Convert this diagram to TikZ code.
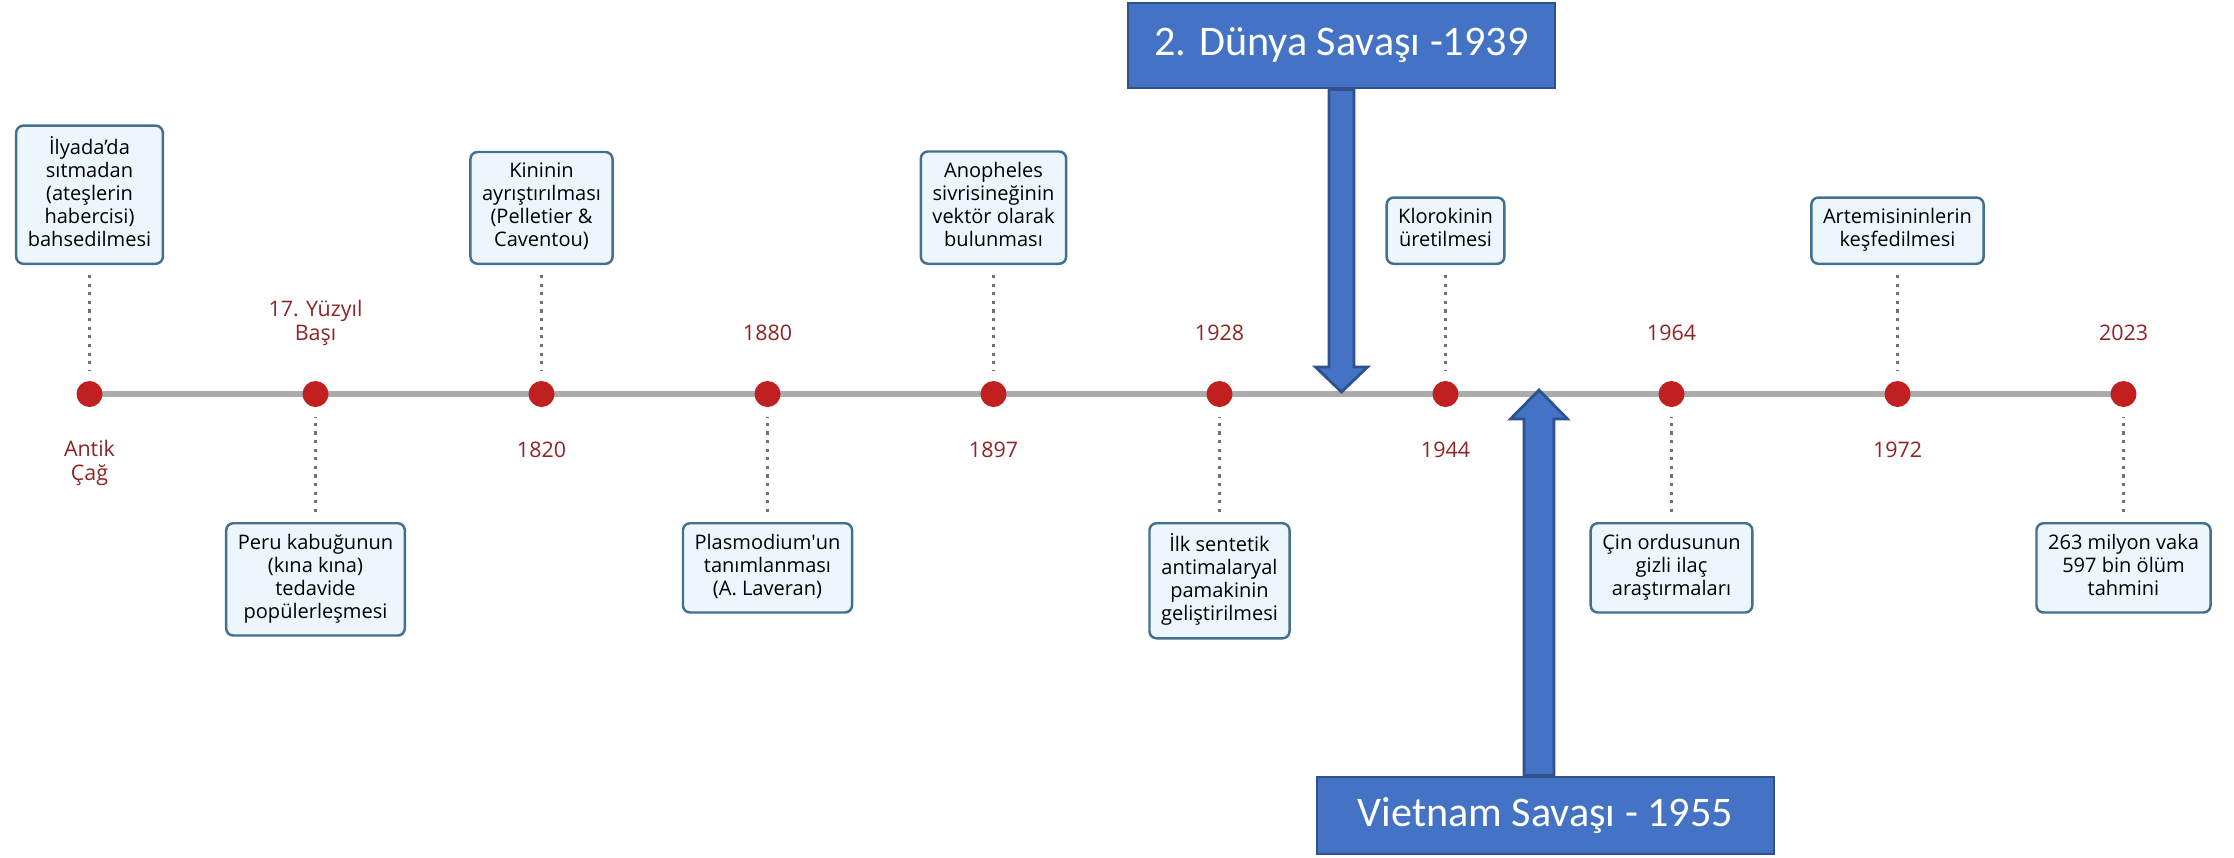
\documentclass[tikz,border=0pt]{standalone}
\usepackage{fontspec}
\setmainfont{Open Sans}
\newfontfamily\warfont{Carlito}
\usepackage{xcolor}
\usepackage{tikz}
\usetikzlibrary{positioning,backgrounds}
\definecolor{evborder}{HTML}{44708F}
\definecolor{evfill}{HTML}{EDF6FC}
\definecolor{dotred}{HTML}{C0201F}
\definecolor{yearred}{HTML}{8E2424}
\definecolor{axisgray}{HTML}{ABABAB}
\definecolor{stemgray}{HTML}{707070}
\definecolor{warblue}{HTML}{4472C4}
\definecolor{warborder}{HTML}{2F528F}
\tikzstyle{event} = [rectangle, rounded corners=2pt, draw=evborder, fill=evfill, line width=0.7pt, font=\fontsize{5.7}{6.55}\selectfont, align=center, inner xsep=3.3pt, inner ysep=3pt, execute at begin node=\strut, execute at end node=\strut]
\tikzstyle{year} = [font=\fontsize{6.1}{6.8}\selectfont, text=yearred, align=center, inner sep=0pt, execute at begin node=\strut, execute at end node=\strut]
\tikzstyle{dot} = [circle, fill=dotred, minimum size=0.26cm, inner sep=0pt, outer sep=0pt]
\tikzstyle{stem} = [draw=stemgray, line width=0.9pt, dash pattern=on 0.9pt off 1.55pt, shorten <=0.1cm, shorten >=0.1cm]
\tikzstyle{axis} = [draw=axisgray, line width=1.5pt]
\tikzstyle{war} = [rectangle, draw=warborder, fill=warblue, line width=0.8pt, text=white, font=\warfont\fontsize{12}{14}\selectfont, inner sep=0pt]
\tikzstyle{blockarrow} = [draw=warborder, fill=warblue, line width=0.8pt, line join=miter]

\begin{document}
\begin{tikzpicture}
	\useasboundingbox (0,0) rectangle (22.34,-8.57);

	\node (d0) [dot] at (0.895,-3.94) {};
	\node (d1) [dot, right=2cm of d0] {};
	\node (d2) [dot, right=2cm of d1] {};
	\node (d3) [dot, right=2cm of d2] {};
	\node (d4) [dot, right=2cm of d3] {};
	\node (d5) [dot, right=2cm of d4] {};
	\node (d6) [dot, right=2cm of d5] {};
	\node (d7) [dot, right=2cm of d6] {};
	\node (d8) [dot, right=2cm of d7] {};
	\node (d9) [dot, right=2cm of d8] {};
	\begin{scope}[on background layer]
		\draw [axis] (d0.center) -- (d9.center);
	\end{scope}

	\node (e0) [event, above=1.16cm of d0] {İlyada'da\\sıtmadan\\(ateşlerin\\habercisi)\\bahsedilmesi};
	\node (e1) [event, below=1.15cm of d1] {Peru kabuğunun\\(kına kına)\\tedavide\\popülerleşmesi};
	\node (e2) [event, above=1.16cm of d2] {Kininin\\ayrıştırılması\\(Pelletier \&\\Caventou)};
	\node (e3) [event, below=1.15cm of d3] {Plasmodium\textquotesingle un\\tanımlanması\\(A. Laveran)};
	\node (e4) [event, above=1.16cm of d4] {Anopheles\\sivrisineğinin\\vektör olarak\\bulunması};
	\node (e5) [event, below=1.15cm of d5] {İlk sentetik\\antimalaryal\\pamakinin\\geliştirilmesi};
	\node (e6) [event, above=1.16cm of d6] {Klorokinin\\üretilmesi};
	\node (e7) [event, below=1.15cm of d7] {Çin ordusunun\\gizli ilaç\\araştırmaları};
	\node (e8) [event, above=1.16cm of d8] {Artemisininlerin\\keşfedilmesi};
	\node (e9) [event, below=1.15cm of d9] {263 milyon vaka\\597 bin ölüm\\tahmini};

	\node (y0) [year, below=0.33cm of d0] {Antik\\Çağ};
	\node (y1) [year, above=0.33cm of d1] {17. Yüzyıl\\Başı};
	\node (y2) [year, below=0.33cm of d2] {1820};
	\node (y3) [year, above=0.33cm of d3] {1880};
	\node (y4) [year, below=0.33cm of d4] {1897};
	\node (y5) [year, above=0.33cm of d5] {1928};
	\node (y6) [year, below=0.33cm of d6] {1944};
	\node (y7) [year, above=0.33cm of d7] {1964};
	\node (y8) [year, below=0.33cm of d8] {1972};
	\node (y9) [year, above=0.33cm of d9] {2023};

	\draw [stem] (e0) -- (d0);
	\draw [stem] (e1) -- (d1);
	\draw [stem] (e2) -- (d2);
	\draw [stem] (e3) -- (d3);
	\draw [stem] (e4) -- (d4);
	\draw [stem] (e5) -- (d5);
	\draw [stem] (e6) -- (d6);
	\draw [stem] (e7) -- (d7);
	\draw [stem] (e8) -- (d8);
	\draw [stem] (e9) -- (d9);

	\node (ww2) [war, minimum width=4.27cm, minimum height=0.85cm] at (13.415,-0.455) {2. Dünya Savaşı -1939};
	\node (vn) [war, minimum width=4.57cm, minimum height=0.77cm] at (15.455,-8.155) {Vietnam Savaşı - 1955};

	\coordinate (ww2tip) at ([yshift=0.02cm]ww2.south |- d0.center);
	\draw [blockarrow] ([xshift=-0.125cm]ww2.south) -- ([xshift=-0.125cm,yshift=0.25cm]ww2tip) -- ([xshift=-0.26cm,yshift=0.25cm]ww2tip) -- (ww2tip) -- ([xshift=0.26cm,yshift=0.25cm]ww2tip) -- ([xshift=0.125cm,yshift=0.25cm]ww2tip) -- ([xshift=0.125cm]ww2.south) -- cycle;

	\coordinate (vntip) at (15.39,-3.90);
	\coordinate (vnbase) at (vntip |- vn.north);
	\draw [blockarrow] ([xshift=-0.15cm]vnbase) -- ([xshift=-0.15cm,yshift=-0.29cm]vntip) -- ([xshift=-0.285cm,yshift=-0.29cm]vntip) -- (vntip) -- ([xshift=0.285cm,yshift=-0.29cm]vntip) -- ([xshift=0.15cm,yshift=-0.29cm]vntip) -- ([xshift=0.15cm]vnbase) -- cycle;
\end{tikzpicture}
\end{document}
